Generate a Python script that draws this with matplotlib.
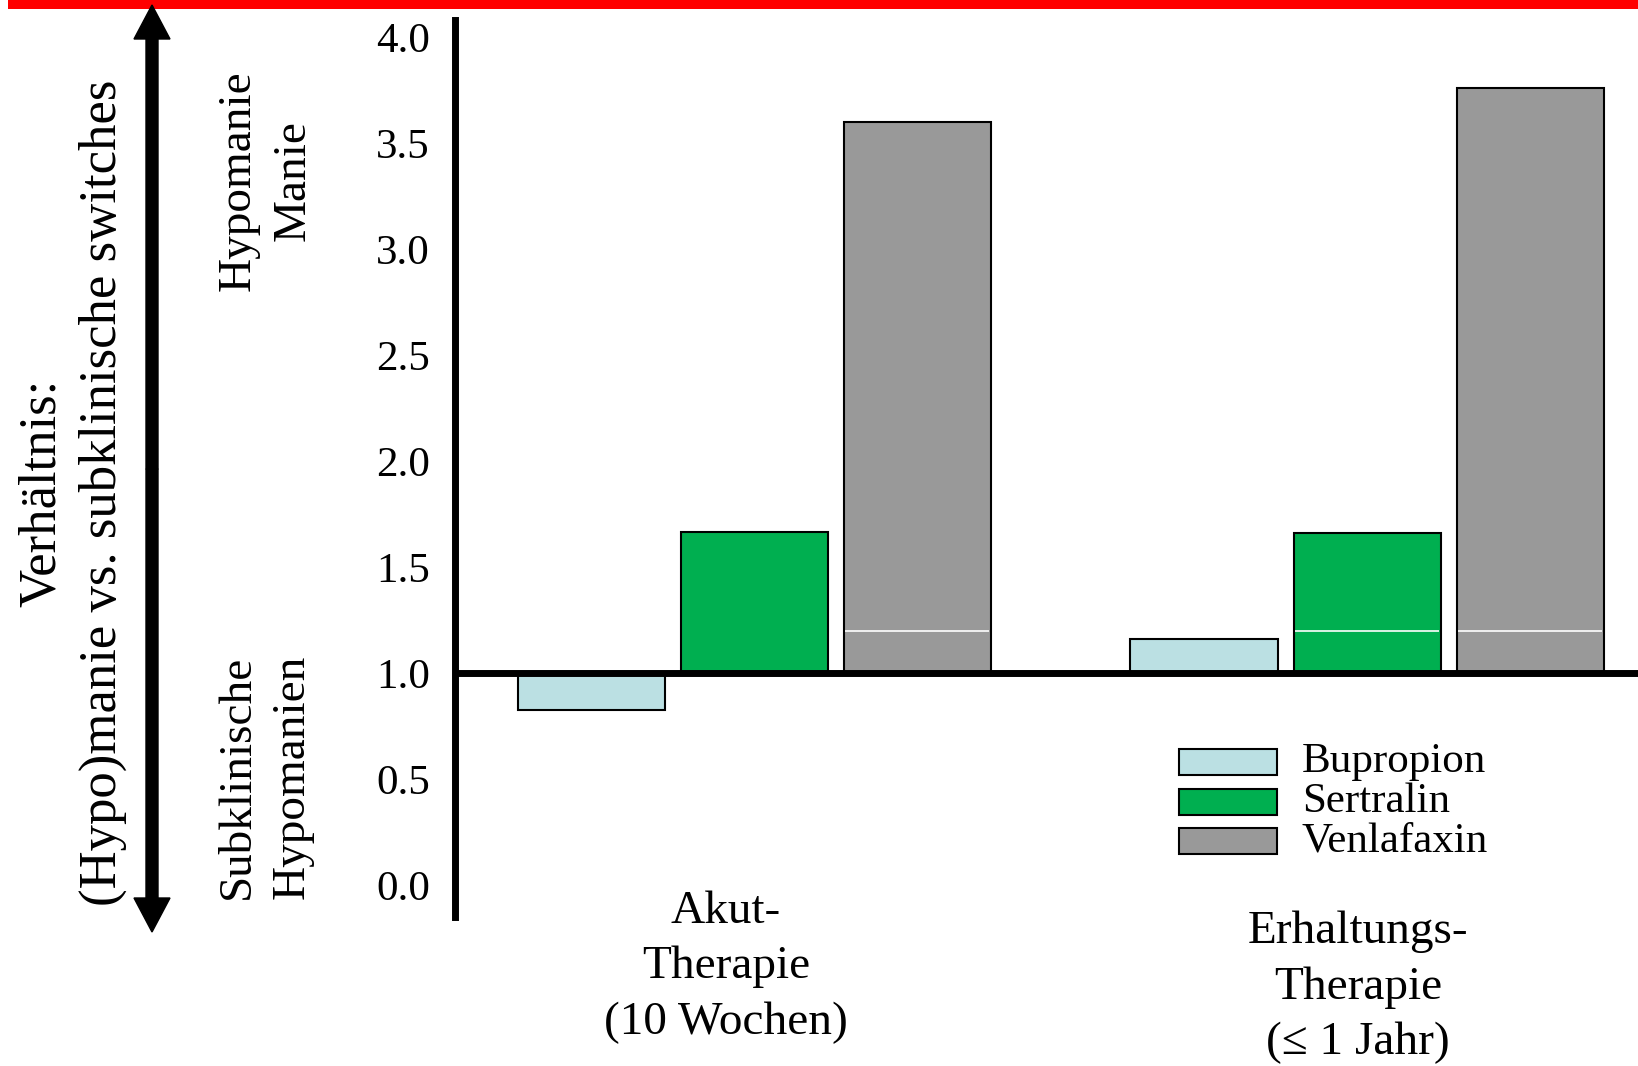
import numpy as np
import matplotlib.pyplot as plt
from matplotlib.patches import Rectangle, FancyArrow

plt.rcParams['font.family'] = ['Liberation Serif', 'DejaVu Serif']

# Daten: Verhältnis (Hypo)manie vs. subklinische switches
phasen = ['Akut-\nTherapie\n(10 Wochen)', 'Erhaltungs-\nTherapie\n(≤ 1 Jahr)']
medikamente = ['Bupropion', 'Sertralin', 'Venlafaxin']
farben = ['#bbe0e3', '#00af50', '#999999']
werte = {
    'Bupropion': [0.825, 1.16],
    'Sertralin': [1.665, 1.66],
    'Venlafaxin': [3.60, 3.76],
}
basis = 1.0
yticks = np.arange(0, 4.01, 0.5)

W, H = 1638, 1066
fig = plt.figure(figsize=(W / 100, H / 100), dpi=100)
ax = fig.add_axes([455 / W, (H - 917) / H, 1 - 455 / W, (917 - 20) / H])

x = np.arange(len(phasen))
schritt = 0.266
breite = 0.240
for i, med in enumerate(medikamente):
    pos = x + (i - 1) * schritt
    hoehe = np.array(werte[med]) - basis
    ax.bar(pos, hoehe, breite, bottom=basis, color=farben[i],
           edgecolor='black', linewidth=1.5, zorder=2)

# weisse Linie (Artefakt im Original) bei 1.2
artefakt = 1.2
for med, p in [('Venlafaxin', 0), ('Sertralin', 1), ('Venlafaxin', 1)]:
    i = medikamente.index(med)
    c = x[p] + (i - 1) * schritt
    ax.hlines(artefakt, c - breite / 2 + 0.003, c + breite / 2 - 0.003,
              color='white', lw=1.2, zorder=3)

ax.axhline(basis, color='black', lw=5, zorder=4)

ax.set_xlim(-0.488, 1.442)
ax.set_ylim(-0.15, 4.08)
ax.set_yticks(yticks)
ax.set_yticklabels([f'{t:.1f}' for t in yticks], fontsize=31)
ax.tick_params(axis='y', length=0, pad=18)
ax.set_xticks([])
for s in ['top', 'right', 'bottom']:
    ax.spines[s].set_visible(False)
ax.spines['left'].set_linewidth(5)

# Gruppenbeschriftungen
ax.text(x[0] - 0.046, -0.385, phasen[0], ha='center', va='center',
        fontsize=34, linespacing=1.4, clip_on=False)
ax.text(x[1] - 0.015, -0.482, phasen[1], ha='center', va='center',
        fontsize=34, linespacing=1.4, clip_on=False)

# Legende von Hand
for i, med in enumerate(medikamente):
    yc = 762 + i * 39.5
    fig.add_artist(Rectangle((1179 / W, (H - yc - 13) / H), 98 / W, 26 / H,
                             facecolor=farben[i], edgecolor='black', lw=1.5,
                             transform=fig.transFigure))
    fig.text(1302 / W, (H - yc) / H, med, fontsize=31, ha='left', va='center')

# roter Balken oben
fig.add_artist(Rectangle((8 / W, (H - 9) / H), 1, 9 / H, facecolor='#ff0000',
                         edgecolor='none', transform=fig.transFigure))

# Doppelpfeil
xm = 152 / W
ym = 0.56
for ende in [(H - 5) / H, (H - 932) / H]:
    fig.add_artist(FancyArrow(xm, ym, 0, ende - ym, width=12 / W,
                              head_width=36 / W, head_length=34 / H,
                              length_includes_head=True, color='black',
                              transform=fig.transFigure))

fig.text(72 / W, (H - 493) / H,
         'Verhältnis:\n(Hypo)manie vs. subklinische switches',
         rotation=90, ha='center', va='center', fontsize=38,
         multialignment='center', linespacing=1.35)
fig.text(266 / W, (H - 181) / H, 'Hypomanie\nManie', rotation=90,
         ha='center', va='center', fontsize=34, multialignment='center',
         linespacing=1.4)
fig.text(265 / W, (H - 777) / H, 'Subklinische\nHypomanien', rotation=90,
         ha='center', va='center', fontsize=34, multialignment='center',
         linespacing=1.4)

fig.savefig('out.png', dpi=100)
